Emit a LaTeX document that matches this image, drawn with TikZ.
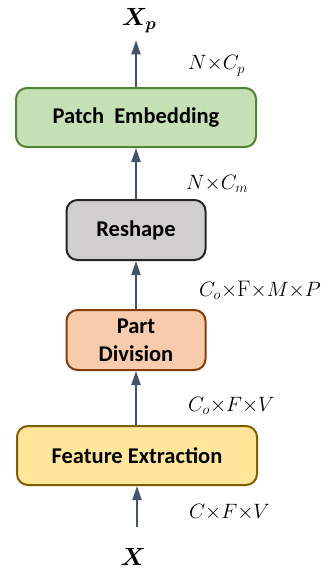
\documentclass[tikz,border=0pt]{standalone}
\usepackage{amsmath,amssymb,bm}
\usepackage{fontspec}
\newfontfamily\blockfont{Carlito}
\usetikzlibrary{arrows.meta,positioning}

\definecolor{embedfill}{HTML}{C5E0B4}
\definecolor{embeddraw}{HTML}{548235}
\definecolor{shapefill}{HTML}{D0CECE}
\definecolor{shapedraw}{HTML}{262626}
\definecolor{partfill}{HTML}{F8CBAD}
\definecolor{partdraw}{HTML}{843C0C}
\definecolor{featfill}{HTML}{FFE699}
\definecolor{featdraw}{HTML}{7F6000}
\definecolor{flowcol}{HTML}{44546A}

\tikzset{
  stage/.style={draw, line width=2pt, rounded corners=11pt, align=center, inner sep=0pt,
    font=\blockfont\bfseries\fontsize{22.5}{28}\selectfont},
  wide/.style={minimum width=240pt, minimum height=59pt},
  narrow/.style={minimum width=139pt, minimum height=60pt},
  flow/.style={draw=flowcol, line width=2pt, -{Triangle[length=14pt,width=9pt]}},
  dims/.style={anchor=base west, inner sep=0pt, font=\fontsize{22.5}{24}\selectfont},
  tensor/.style={anchor=base, inner sep=0pt, font=\fontsize{26}{28}\selectfont}
}

\begin{document}
\begin{tikzpicture}[x=1pt,y=-1pt]
\useasboundingbox (0,0) rectangle (326,578);

% blocks, bottom to top
\node[stage, wide, fill=featfill, draw=featdraw] (feat) at (137,455.5) {Feature Extraction};
\node[stage, narrow, fill=partfill, draw=partdraw] (part) at (136,340) {Part\\Division};
\node[stage, narrow, fill=shapefill, draw=shapedraw] (reshape) at (136,230) {Reshape};
\node[stage, wide, fill=embedfill, draw=embeddraw] (embed) at (136,117.5) {Patch~~Embedding};

% input and output
\node[tensor] (xin) at (133,565) {$\bm{X}$};
\node[tensor] (xout) at (139,26) {$\bm{X_p}$};

% shapes beside the arrows
\node[dims] (dimin) at (189,518) {$C{\times}F{\times}V$};
\node[dims] (dimfeat) at (188,411) {$C_o{\times}F{\times}V$};
\node[dims] (dimpart) at (199,296) {$C_o{\times}\mathrm{F}{\times}M{\times}P$};
\node[dims] (dimshape) at (186,189) {$N{\times}C_m$};
\node[dims] (dimout) at (188,70) {$N{\times}C_p$};

% connectors
\draw[flow, shorten <=21pt] (feat.south |- xin.north) -- (feat.south);
\draw[flow] (feat.north -| part.south) -- (part.south);
\draw[flow] (part.north) -- (reshape.south);
\draw[flow] (reshape.north) -- (embed.south);
\draw[flow, shorten >=7pt] (embed.north) -- (embed.north |- xout.south);
\end{tikzpicture}
\end{document}
